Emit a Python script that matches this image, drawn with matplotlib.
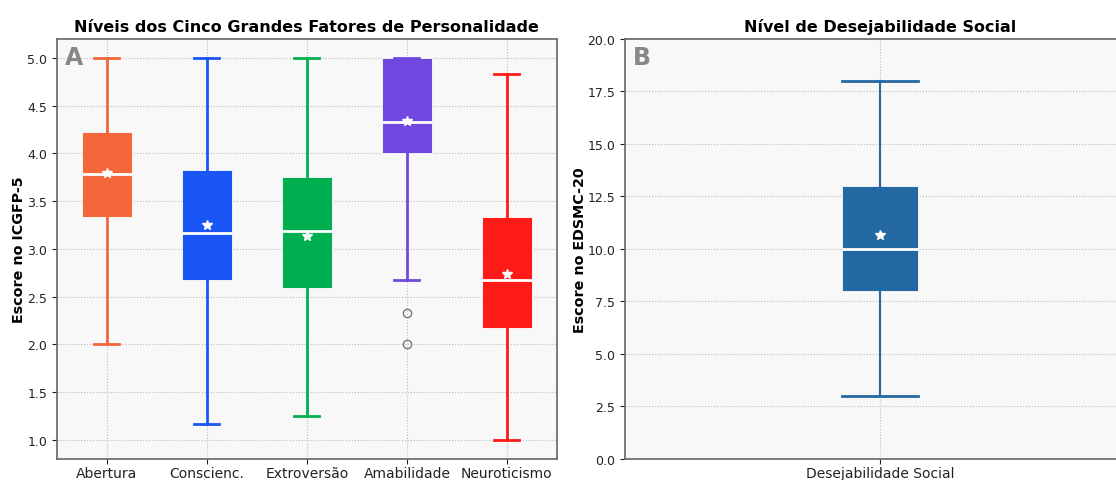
import matplotlib.pyplot as plt

# Dados (estatísticas dos boxplots)
fatores = ['Abertura', 'Conscienc.', 'Extroversão', 'Amabilidade', 'Neuroticismo']
cores = ['#F4673B', '#1A56F5', '#00B050', '#7048E0', '#FF1A1A']
whislo = [2.00, 1.17, 1.25, 2.67, 1.00]
q1 = [3.33, 2.67, 2.59, 4.00, 2.17]
medianas = [3.78, 3.17, 3.19, 4.33, 2.67]
q3 = [4.22, 3.83, 3.75, 5.00, 3.33]
whishi = [5.00, 5.00, 5.00, 5.00, 4.83]
medias = [3.79, 3.25, 3.14, 4.34, 2.74]
outliers = [[], [], [], [2.33, 2.00], []]

ds_label = 'Desejabilidade Social'
ds_cor = '#2368A2'
ds_stats = dict(whislo=3.0, q1=8.0, med=10.0, q3=13.0, whishi=18.0, mean=10.67)

fig = plt.figure(figsize=(11.16, 4.81), dpi=100)
ax1 = fig.add_axes([0.051, 0.044, 0.448, 0.873])
ax2 = fig.add_axes([0.560, 0.044, 0.457, 0.873])

fundo = '#F8F8F8'
spine_cor = '#666666'


def estilo(ax):
    ax.set_facecolor(fundo)
    ax.grid(True, linestyle=':', color='#BBBBBB', linewidth=0.8)
    ax.set_axisbelow(True)
    for s in ax.spines.values():
        s.set_color(spine_cor)
        s.set_linewidth(1.2)
    ax.tick_params(axis='y', labelsize=9, colors='#222222')
    ax.tick_params(axis='x', labelsize=10, colors='#222222', pad=2)


# Painel A
stats = []
for i, nome in enumerate(fatores):
    stats.append(dict(label=nome, whislo=whislo[i], q1=q1[i], med=medianas[i],
                      q3=q3[i], whishi=whishi[i], mean=medias[i], fliers=outliers[i]))

bp = ax1.bxp(stats, patch_artist=True, showmeans=True, widths=0.5,
             medianprops=dict(color='white', linewidth=2),
             meanprops=dict(marker='*', markerfacecolor='white', markeredgecolor='white', markersize=7),
             flierprops=dict(marker='o', markerfacecolor='none', markeredgecolor='#777777', markersize=6))
for i, c in enumerate(cores):
    bp['boxes'][i].set_facecolor(c)
    bp['boxes'][i].set_edgecolor('#FFFFFF')
    bp['boxes'][i].set_linewidth(0.6)
    for w in bp['whiskers'][2 * i:2 * i + 2]:
        w.set_color(c)
        w.set_linewidth(2)
    for cap in bp['caps'][2 * i:2 * i + 2]:
        cap.set_color(c)
        cap.set_linewidth(2)
        cap.set_xdata([i + 1 - 0.125, i + 1 + 0.125])

estilo(ax1)
ax1.set_ylim(0.8, 5.2)
ax1.set_title('Níveis dos Cinco Grandes Fatores de Personalidade', fontsize=11.5, fontweight='bold')
ax1.set_ylabel('Escore no ICGFP-5', fontsize=10.3, fontweight='bold', labelpad=1)
ax1.text(0.015, 0.985, 'A', transform=ax1.transAxes, fontsize=17, fontweight='bold',
         color='#888888', va='top', ha='left')

# Painel B
ds = dict(label=ds_label, fliers=[], **ds_stats)
bp2 = ax2.bxp([ds], patch_artist=True, showmeans=True, widths=0.15,
              medianprops=dict(color='white', linewidth=2),
              meanprops=dict(marker='*', markerfacecolor='white', markeredgecolor='white', markersize=7))
bp2['boxes'][0].set_facecolor(ds_cor)
bp2['boxes'][0].set_edgecolor('#FFFFFF')
bp2['boxes'][0].set_linewidth(0.6)
for w in bp2['whiskers']:
    w.set_color(ds_cor)
    w.set_linewidth(1.5)
for cap in bp2['caps']:
    cap.set_color(ds_cor)
    cap.set_linewidth(2)
    cap.set_xdata([1 - 0.075, 1 + 0.075])

estilo(ax2)
ax2.set_xlim(0.5, 1.5)
ax2.set_ylim(0, 20)
ax2.set_title('Nível de Desejabilidade Social', fontsize=11.5, fontweight='bold')
ax2.set_ylabel('Escore no EDSMC-20', fontsize=10.3, fontweight='bold', labelpad=0)
ax2.text(0.015, 0.985, 'B', transform=ax2.transAxes, fontsize=17, fontweight='bold',
         color='#888888', va='top', ha='left')

plt.savefig('out.png', dpi=100)
